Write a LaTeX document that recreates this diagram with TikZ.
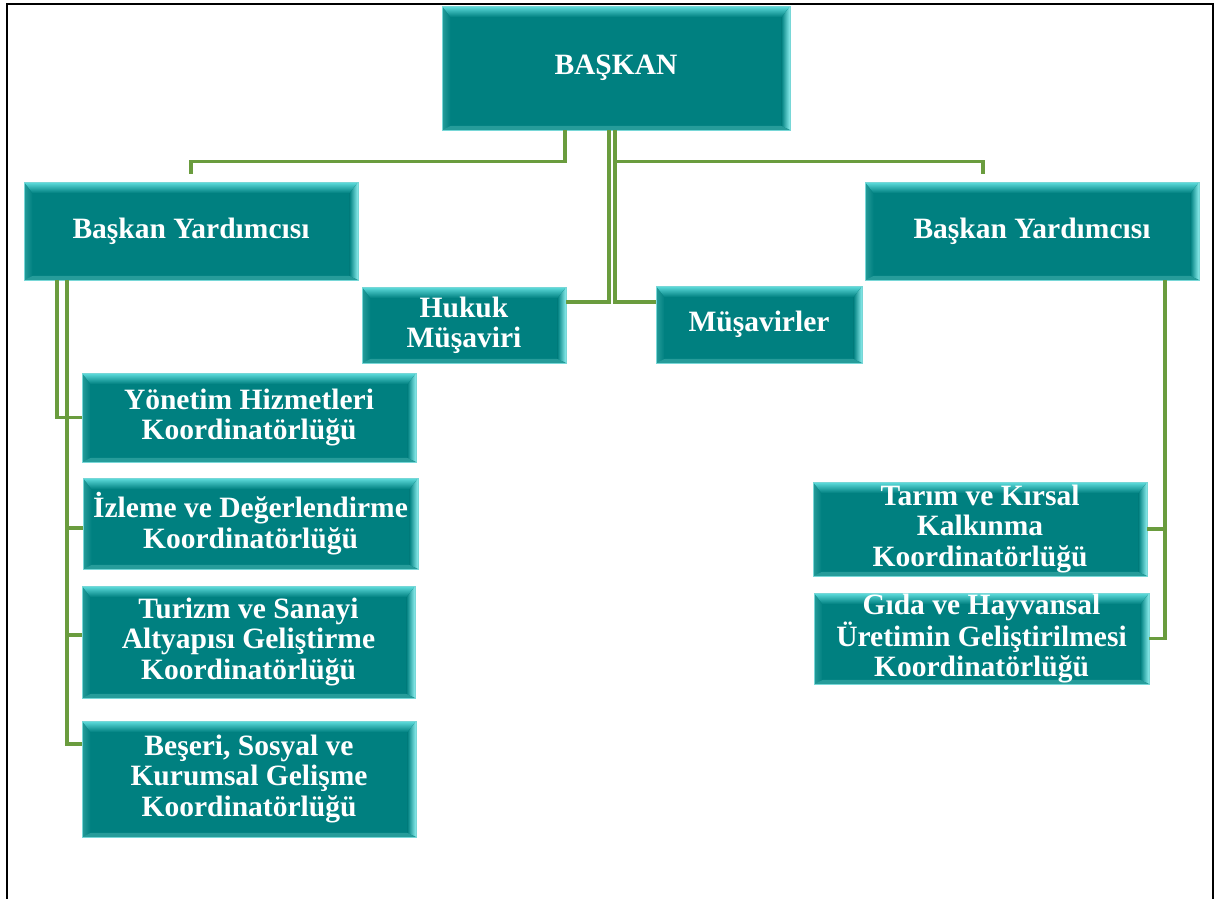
\documentclass[tikz,border=0pt]{standalone}
\usepackage{fontspec}
\setmainfont{Liberation Serif}
\usetikzlibrary{calc,positioning}
\definecolor{teal0}{RGB}{0,128,128}
\definecolor{tealtop}{RGB}{96,222,222}
\definecolor{tealright}{RGB}{140,238,238}
\definecolor{tealleft}{RGB}{38,156,154}
\definecolor{tealedge}{RGB}{120,215,215}
\definecolor{olive0}{RGB}{106,156,62}
\tikzset{unit/.style={rectangle, fill=teal0, draw=tealedge, line width=0.4pt, inner sep=0pt, text=white, align=center, font=\bfseries\fontsize{16.8}{17.2}\selectfont,
    path picture={
      \coordinate (nw) at (path picture bounding box.north west);
      \coordinate (ne) at (path picture bounding box.north east);
      \coordinate (sw) at (path picture bounding box.south west);
      \coordinate (se) at (path picture bounding box.south east);
      \fill[left color=tealleft, right color=teal0] (nw) -- ([xshift=0.17cm,yshift=-0.22cm]nw) -- ([xshift=0.17cm,yshift=0.08cm]sw) -- (sw) -- cycle;
      \fill[left color=teal0, right color=tealright] (ne) -- (se) -- ([xshift=-0.17cm,yshift=0.08cm]se) -- ([xshift=-0.17cm,yshift=-0.22cm]ne) -- cycle;
      \fill[top color=tealtop, bottom color=teal0] (nw) -- (ne) -- ([xshift=-0.17cm,yshift=-0.22cm]ne) -- ([xshift=0.17cm,yshift=-0.22cm]nw) -- cycle;
      \fill[tealleft] (sw) -- ([xshift=0.17cm,yshift=0.08cm]sw) -- ([xshift=-0.17cm,yshift=0.08cm]se) -- (se) -- cycle;
    }},
  link/.style={line width=1.8pt, draw=olive0}}

\begin{document}
\begin{tikzpicture}[x=0.02cm,y=-0.02cm]
    \useasboundingbox (0,0) rectangle (1221,899);
    \draw[line width=1.2pt] (7,899) -- (7,4) -- (1213,4) -- (1213,899);

    \node[unit, minimum width=6.96cm, minimum height=2.48cm] (BK) at (616,68) {BAŞKAN};
    \node[unit, minimum width=6.68cm, minimum height=1.96cm] (BY1) at (191,231) {Başkan Yardımcısı};
    \node[unit, minimum width=6.68cm, minimum height=1.96cm] (BY2) at (1032,231) {Başkan Yardımcısı};
    \node[unit, minimum width=4.08cm, minimum height=1.52cm] (HM) at (464,325) {Hukuk\\Müşaviri};
    \node[unit, minimum width=4.12cm, minimum height=1.54cm] (MS) at (759,324.5) {Müşavirler};

    \node[unit, minimum width=6.68cm, minimum height=1.78cm] (K1) at (249,417.5) {Yönetim Hizmetleri\\Koordinatörlüğü};
    \node[unit, minimum width=6.7cm, minimum height=1.82cm] (K2) at (250.5,523.5) {İzleme ve Değerlendirme\\Koordinatörlüğü};
    \node[unit, minimum width=6.66cm, minimum height=2.24cm] (K3) at (248.5,642) {Turizm ve Sanayi\\Altyapısı Geliştirme\\Koordinatörlüğü};
    \node[unit, minimum width=6.68cm, minimum height=2.32cm] (K4) at (249,779) {Beşeri, Sosyal ve\\Kurumsal Gelişme\\Koordinatörlüğü};
    \node[unit, minimum width=6.68cm, minimum height=1.88cm] (K5) at (980,529) {Tarım ve Kırsal\\Kalkınma\\Koordinatörlüğü};
    \node[unit, minimum width=6.7cm, minimum height=1.82cm] (K6) at (981.5,638.5) {Gıda ve Hayvansal\\Üretimin Geliştirilmesi\\Koordinatörlüğü};

    \coordinate (T1) at ([yshift=0.16cm]BY1.north);
    \coordinate (T2) at ([xshift=-0.98cm,yshift=0.16cm]BY2.north);
    \draw[link] ([xshift=-1.02cm]BK.south) -- ++(0,31) -| (T1);
    \draw[link] ([xshift=-0.02cm]BK.south) -- ++(0,31) -| (T2);
    \draw[link] ([xshift=-0.14cm]BK.south) |- ([yshift=0.46cm]HM.east);
    \draw[link] ([xshift=-0.02cm]BK.south) |- ([yshift=0.45cm]MS.west);

    \draw[link] ([xshift=-2.68cm]BY1.south) |- (K1.west);
    \draw[link] ([xshift=-2.48cm]BY1.south) |- ([yshift=-0.09cm]K2.west);
    \draw[link] ([xshift=-2.48cm]BY1.south) |- ([yshift=0.14cm]K3.west);
    \draw[link] ([xshift=-2.48cm]BY1.south) |- ([yshift=0.7cm]K4.west);
    \draw[link] ([xshift=2.66cm]BY2.south) |- (K5.east);
    \draw[link] ([xshift=2.66cm]BY2.south) |- (K6.east);
\end{tikzpicture}
\end{document}
